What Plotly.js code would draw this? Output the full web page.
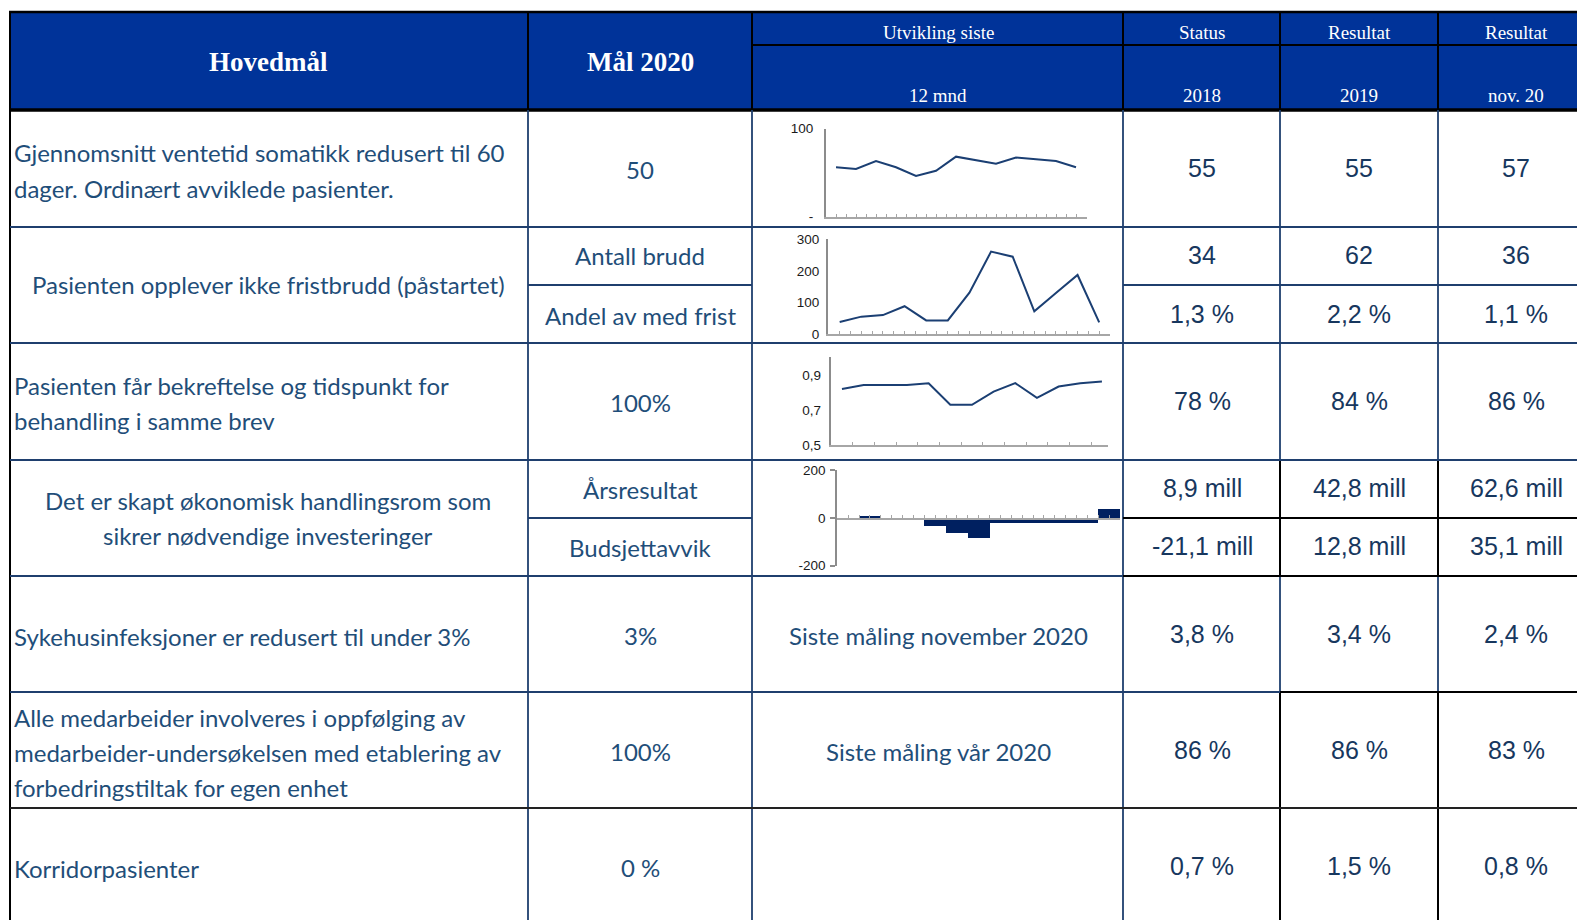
<!DOCTYPE html>
<html><head><meta charset="utf-8">
<script src="https://cdn.plot.ly/plotly-3.0.1.min.js"></script>
<style>html,body{margin:0;padding:0;background:#fff;}#chart{width:1577px;height:920px;}</style>
</head><body><div id="chart"></div>
<script>
// ---------------- DATA ----------------
const headerMain = ["Hovedmål", "Mål 2020"];
const headerTop = ["Utvikling siste", "Status", "Resultat", "Resultat"];
const headerBottom = ["12 mnd", "2018", "2019", "nov. 20"];

const goalLines = [
  ["Gjennomsnitt ventetid somatikk redusert til 60", "dager. Ordinært avviklede pasienter."],
  ["Pasienten opplever ikke fristbrudd (påstartet)"],
  ["Pasienten får bekreftelse og tidspunkt for", "behandling i samme brev"],
  ["Det er skapt økonomisk handlingsrom som", "sikrer nødvendige investeringer"],
  ["Sykehusinfeksjoner er redusert til under 3%"],
  ["Alle medarbeider involveres i oppfølging av", "medarbeider-undersøkelsen med etablering av", "forbedringstiltak for egen enhet"],
  ["Korridorpasienter"]
];
const targets = ["50", "Antall brudd", "Andel av med frist", "100%", "Årsresultat", "Budsjettavvik", "3%", "100%", "0 %"];
const trendNotes = ["Siste måling november 2020", "Siste måling vår 2020"];
const status2018 = ["55", "34", "1,3 %", "78 %", "8,9 mill", "-21,1 mill", "3,8 %", "86 %", "0,7 %"];
const result2019 = ["55", "62", "2,2 %", "84 %", "42,8 mill", "12,8 mill", "3,4 %", "86 %", "1,5 %"];
const resultNov20 = ["57", "36", "1,1 %", "86 %", "62,6 mill", "35,1 mill", "2,4 %", "83 %", "0,8 %"];

// sparklines (13 months)
const monthIdx = [1, 2, 3, 4, 5, 6, 7, 8, 9, 10, 11, 12, 13];
const ventetid = [56, 54, 63, 56, 46, 52, 68, 64, 60, 67, 65, 63, 56];
const fristbrudd = [38, 55, 60, 88, 43, 43, 131, 261, 245, 72, 130, 187, 37];
const bekreftelse = [0.82, 0.843, 0.843, 0.843, 0.853, 0.73, 0.73, 0.805, 0.853, 0.77, 0.834, 0.853, 0.862];
const budsjett = [0, 6, 0, 0, -32, -63, -85, -20, -20, -20, -20, -20, 37];

// ---------------- LAYOUT HELPERS ----------------
const W = 1577, H = 920;
const X = x => x / W, Y = y => 1 - y / H;
const NAVY = '#1F3F6E', BLACK = '#000000';
const HEADER_BG = '#003399';
const BODY_TXT = '#1F4E79', NUM_TXT = '#17375E';
const SERIF = 'Liberation Serif, DejaVu Serif, serif';
const SANS = 'Lato, Open Sans, sans-serif';
const ARIAL = 'Liberation Sans, Arial, sans-serif';

const shapes = [];
const annotations = [];
function line(x0, y0, x1, y1, color, w) {
  shapes.push({type: 'line', xref: 'paper', yref: 'paper', x0: X(x0), y0: Y(y0), x1: X(x1), y1: Y(y1),
    line: {color: color, width: w}, layer: 'above'});
}
function text(t, x, y, font, xanchor) {
  annotations.push({text: t, x: X(x), y: Y(y), xref: 'paper', yref: 'paper', showarrow: false,
    xanchor: xanchor || 'center', yanchor: 'middle', font: font});
}

// header background
shapes.push({type: 'rect', xref: 'paper', yref: 'paper', x0: X(10), x1: X(1577), y0: Y(110), y1: Y(12),
  fillcolor: HEADER_BG, line: {width: 0}, layer: 'below'});

const valueX = [1202, 1359, 1516];

// header lines
line(9, 12, 1577, 12, BLACK, 2.5);
line(752, 45, 1577, 45, BLACK, 2);
line(9, 110, 1577, 110, BLACK, 3.5);
[10, 528, 752, 1123, 1280, 1438].forEach(x => line(x, 12, x, 110, BLACK, 2));

// body vertical lines
line(10, 110, 10, 925, BLACK, 2);
[528, 752, 1123].forEach(x => line(x, 110, x, 925, NAVY, 1.8));
[1280, 1438].forEach(x => {
  line(x, 110, x, 460, NAVY, 1.8);
  line(x, 460, x, 576, BLACK, 2);
  line(x, 576, x, 692, NAVY, 1.8);
  line(x, 692, x, 925, BLACK, 2);
});
// body horizontal lines
[227, 343, 460].forEach(y => line(10, y, 1577, y, NAVY, 1.8));
line(528, 285, 752, 285, NAVY, 1.8);
line(1123, 285, 1577, 285, NAVY, 1.8);
line(528, 518, 752, 518, NAVY, 1.8);
line(1123, 518, 1577, 518, BLACK, 2);
line(10, 576, 1123, 576, NAVY, 1.8);
line(1123, 576, 1577, 576, BLACK, 2);
line(10, 692, 1280, 692, NAVY, 1.8);
line(1280, 692, 1577, 692, BLACK, 2);
line(10, 808, 1577, 808, '#222222', 2);

// header texts
const hFontBig = {family: SERIF, size: 27, color: '#ffffff', weight: 'bold'};
const hFont = {family: SERIF, size: 19, color: '#ffffff'};
text('<b>' + headerMain[0] + '</b>', 268, 62, hFontBig);
text('<b>' + headerMain[1] + '</b>', 640, 62, hFontBig);
const hCenters = [938, 1202, 1359, 1516];
headerTop.forEach((t, i) => text(t, hCenters[i], 32, hFont));
headerBottom.forEach((t, i) => text(t, hCenters[i], 96, hFont));

// goal texts
const goalPos = [
  {align: 'left', ys: [153, 188]},
  {align: 'center', ys: [285]},
  {align: 'left', ys: [385, 420]},
  {align: 'center', ys: [500, 535]},
  {align: 'left', ys: [636]},
  {align: 'left', ys: [717, 752, 787]},
  {align: 'left', ys: [868]}
];
const bodyFont = {family: SANS, size: 24, color: BODY_TXT};
goalLines.forEach((lines, i) => {
  const p = goalPos[i];
  lines.forEach((t, j) => {
    if (p.align === 'left') text(t, 12, p.ys[j], bodyFont, 'left');
    else text(t, 268, p.ys[j], bodyFont, 'center');
  });
});
// targets
const subRowY = [169, 256, 315, 402, 489, 547, 635, 751, 867];
targets.forEach((t, i) => text(t, 640, subRowY[i], bodyFont));
// notes
text(trendNotes[0], 938, 635, bodyFont);
text(trendNotes[1], 938, 751, bodyFont);
// values
const numFont = {family: ARIAL, size: 25, color: NUM_TXT};
[status2018, result2019, resultNov20].forEach((col, c) => {
  col.forEach((t, i) => text(t, valueX[c], subRowY[i] - 1, numFont));
});

// ---------------- SPARKLINES ----------------
const lineColor = '#1B3F73';
const axGray = '#8c8c8c';
const tickFont = {family: ARIAL, size: 13.5, color: '#1a1a1a'};
function xAx(d, r, t0, dt, extra) {
  return Object.assign({domain: [X(d[0]), X(d[1])], range: r, showgrid: false, zeroline: false,
    showline: true, linecolor: '#a6a6a6', linewidth: 2, ticks: 'inside', ticklen: 3, tickwidth: 1,
    tickcolor: '#a6a6a6', tick0: t0, dtick: dt, showticklabels: false, fixedrange: true}, extra || {});
}
function yAx(d, r, tv, tt, extra) {
  return Object.assign({domain: [Y(d[1]), Y(d[0])], range: r, showgrid: false, zeroline: false,
    showline: true, linecolor: axGray, linewidth: 2, ticks: '', tickvals: tv, ticktext: tt,
    tickfont: tickFont, fixedrange: true}, extra || {});
}

const traces = [
  {x: monthIdx, y: ventetid, xaxis: 'x2', yaxis: 'y2', type: 'scatter', mode: 'lines',
    line: {color: lineColor, width: 2}, hoverinfo: 'skip'},
  {x: monthIdx, y: fristbrudd, xaxis: 'x3', yaxis: 'y3', type: 'scatter', mode: 'lines',
    line: {color: lineColor, width: 2}, hoverinfo: 'skip'},
  {x: monthIdx, y: bekreftelse, xaxis: 'x4', yaxis: 'y4', type: 'scatter', mode: 'lines',
    line: {color: lineColor, width: 2}, hoverinfo: 'skip'},
  {x: monthIdx, y: budsjett, xaxis: 'x5', yaxis: 'y5', type: 'bar', width: 1,
    marker: {color: '#002060', line: {width: 0}}, hoverinfo: 'skip'}
];

const layout = {
  width: W, height: H, autosize: false,
  margin: {l: 0, r: 0, t: 0, b: 0, pad: 0},
  paper_bgcolor: '#ffffff', plot_bgcolor: 'rgba(0,0,0,0)',
  showlegend: false, bargap: 0,
  xaxis: {visible: false, domain: [0, 0.001]}, yaxis: {visible: false, domain: [0, 0.001]},
  xaxis2: xAx([826, 1087], [0.5, 13.55], 0.5, 0.5),
  yaxis2: yAx([128.5, 216.5], [0, 100], [0, 100], ['-', '100'], {ticklabelstandoff: 8}),
  xaxis3: xAx([828, 1110], [0.46, 13.5], 0.5, 0.5),
  yaxis3: yAx([239.3, 334], [0, 300], [0, 100, 200, 300], ['0', '100', '200', '300'], {ticklabelstandoff: 4}),
  xaxis4: xAx([830.7, 1108], [0.48, 13.28], 0.5, 1),
  yaxis4: yAx([357.3, 445.3], [0.5, 1.0], [0.5, 0.7, 0.9], ['0,5', '0,7', '0,9'], {ticklabelstandoff: 5}),
  xaxis5: xAx([837.3, 1120], [0.5, 13.5], 0.5, 0.5, {anchor: 'free', position: Y(519), ticks: 'inside', ticklen: 3}),
  yaxis5: yAx([470, 565.7], [-200, 200], [-200, 0, 200], ['-200', '0', '200'],
    {ticks: 'outside', ticklen: 5, tickcolor: axGray, tickwidth: 2, ticklabelstandoff: 2}),
  shapes: shapes,
  annotations: annotations
};
['xaxis2','xaxis3','xaxis4','xaxis5'].forEach((k, i) => { if (!layout[k].anchor) layout[k].anchor = 'y' + (i + 2); });
['yaxis2','yaxis3','yaxis4','yaxis5'].forEach((k, i) => { layout[k].anchor = 'x' + (i + 2); });

Plotly.newPlot('chart', traces, layout, {displayModeBar: false, staticPlot: true});
</script>
</body></html>
